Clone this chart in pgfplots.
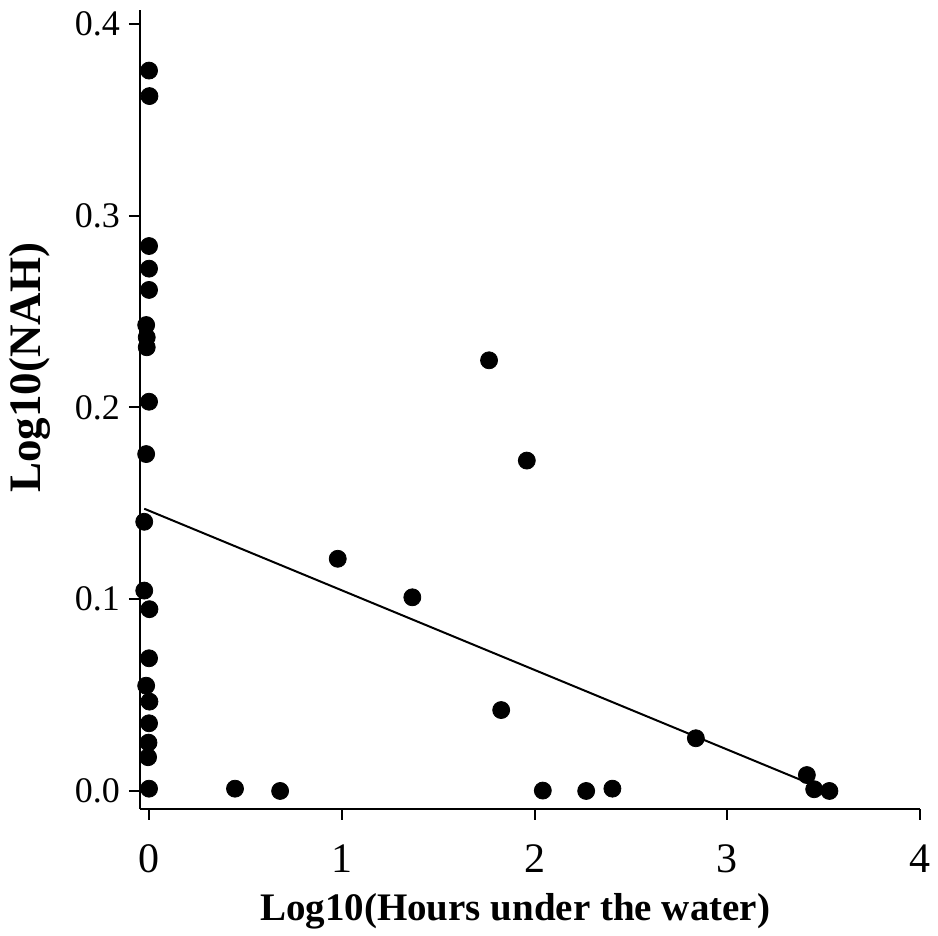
\documentclass[border=0pt]{standalone}
\usepackage{fontspec}
\setmainfont{Liberation Serif}
\usepackage{pgfplots}
\pgfplotsset{compat=1.18}

\begin{document}
\begin{tikzpicture}
\path[use as bounding box] (-70pt,-63.5pt) rectangle (399pt,404.5pt);
\begin{axis}[
    scale only axis,
    width=390pt, height=399.5pt,
    at={(0,0)}, anchor=south west,
    xmin=-0.047, xmax=4,
    ymin=-0.0094, ymax=0.4073,
    axis x line*=bottom,
    axis y line*=left,
    axis line style={line width=1.2pt, -},
    xtick={0,1,2,3,4},
    ytick={0,0.1,0.2,0.3,0.4},
    tick align=outside,
    major tick length=5.5pt,
    tick style={black, line width=1pt},
    /pgf/number format/assume math mode=true,
    yticklabel style={/pgf/number format/fixed, /pgf/number format/fixed zerofill, /pgf/number format/precision=1, xshift=-1pt, font=\fontsize{18}{20}\selectfont},
    xticklabel style={/pgf/number format/fixed, /pgf/number format/precision=0, yshift=-9pt, font=\fontsize{21}{24}\selectfont},
    xlabel={Log10(Hours under the water)},
    ylabel={Log10(NAH)},
    xlabel style={font=\fontsize{19.5}{24}\selectfont\bfseries, at={(axis description cs:0.481,-0.128)}, anchor=center},
    ylabel style={font=\fontsize{22.5}{26}\selectfont\bfseries, at={(axis description cs:-0.141,0.552)}, anchor=center},
    clip=false,
]
% observations
\addplot[only marks, mark=*, mark size=4.25pt, black] coordinates {
    (0.000,0.3757) (0.002,0.3624) (0.000,0.2842) (0.000,0.2724) (0.000,0.2613)
    (-0.015,0.2430) (-0.012,0.2366) (-0.012,0.2314) (0.000,0.2030) (-0.015,0.1757)
    (-0.025,0.1404) (-0.025,0.1045) (0.002,0.0948) (0.000,0.0692) (-0.015,0.0549)
    (0.002,0.0466) (0.000,0.0353) (-0.003,0.0252) (-0.005,0.0176) (0.000,0.0012)
    (0.446,0.0012) (0.680,0.0000)
    (0.979,0.1211) (1.366,0.1010) (1.764,0.2246) (1.960,0.1723) (1.827,0.0422)
    (2.043,0.0002) (2.268,0.0000) (2.404,0.0012) (2.837,0.0275)
    (3.413,0.0083) (3.451,0.0009) (3.530,0.0000)
};
% fitted line
\addplot[black, line width=1pt] coordinates {(-0.025,0.1472) (3.395,0.0052)};
\end{axis}
\end{tikzpicture}
\end{document}
